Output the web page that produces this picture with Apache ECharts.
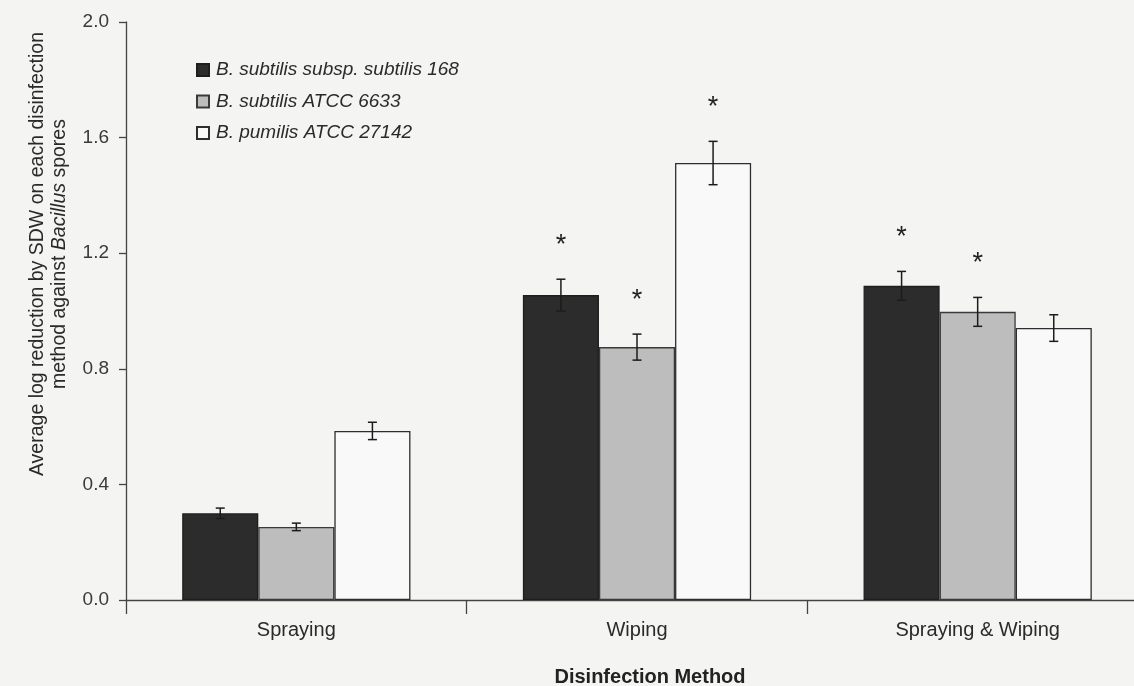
<!DOCTYPE html>
<html>
<head>
<meta charset="utf-8">
<script src="https://cdn.jsdelivr.net/npm/echarts@6/dist/echarts.min.js"></script>
<style>
  html, body { margin: 0; padding: 0; background: #f4f4f2; }
  #chart { width: 1134px; height: 686px; }
</style>
</head>
<body>
<div id="chart"></div>
<script>
// Disinfection methods (x categories)
const methods = ['Spraying', 'Wiping', 'Spraying & Wiping'];

// Strain names
const strains = [
  'B. subtilis subsp. subtilis 168',
  'B. subtilis ATCC 6633',
  'B. pumilis ATCC 27142'
];

// Mean log reduction per strain, one value per method
const strain168 = [0.30, 1.055, 1.087];
const strain6633 = [0.253, 0.875, 0.997];
const strain27142 = [0.585, 1.512, 0.941];

// Error (± half-range) per strain
const err168 = [0.018, 0.055, 0.05];
const err6633 = [0.013, 0.045, 0.05];
const err27142 = [0.03, 0.075, 0.046];

// Significance markers (1 = asterisk drawn)
const sig168 = [0, 1, 1];
const sig6633 = [0, 1, 1];
const sig27142 = [0, 1, 0];

// Y axis ticks
const yTicks = [0, 0.4, 0.8, 1.2, 1.6, 2.0];

const means = [strain168, strain6633, strain27142];
const errs = [err168, err6633, err27142];
const sigs = [sig168, sig6633, sig27142];

const FONT = '"Liberation Sans", Arial, Helvetica, sans-serif';
const GAP = 0.33;

const fills = ['#2c2c2c', '#bdbdbd', '#f9f9f9'];
const borders = ['#1e1e1e', '#3a3a3a', '#2e2e2e'];

const chart = echarts.init(document.getElementById('chart'), null, { renderer: 'canvas' });

// horizontal offset of a series' bar centre inside its category band
function barOffset(api, sIdx) {
  const band = api.size([1, 0])[0];
  const bw = band * (1 - GAP) / 3;
  return (sIdx - 1) * bw;
}

const barSeries = strains.map((name, i) => ({
  name: name,
  type: 'bar',
  data: means[i],
  barGap: '0%',
  barCategoryGap: (GAP * 100) + '%',
  itemStyle: { color: fills[i], borderColor: borders[i], borderWidth: 1.3 },
  emphasis: { disabled: true },
  z: 2
}));

// error whiskers with caps
const errSeries = strains.map((name, i) => ({
  type: 'custom',
  z: 5,
  silent: true,
  data: methods.map((m, j) => [j, means[i][j], errs[i][j]]),
  renderItem: function (params, api) {
    const j = api.value(0);
    const v = api.value(1);
    const e = api.value(2);
    const off = barOffset(api, i);
    const top = api.coord([j, v + e]);
    const bot = api.coord([j, v - e]);
    const x = top[0] + off;
    const cap = 4.5;
    const st = { stroke: '#1c1c1c', lineWidth: 1.5 };
    return {
      type: 'group',
      children: [
        { type: 'line', shape: { x1: x, y1: top[1], x2: x, y2: bot[1] }, style: st },
        { type: 'line', shape: { x1: x - cap, y1: top[1], x2: x + cap, y2: top[1] }, style: st },
        { type: 'line', shape: { x1: x - cap, y1: bot[1], x2: x + cap, y2: bot[1] }, style: st }
      ]
    };
  }
}));

// significance asterisks above the whiskers
const starSeries = strains.map((name, i) => ({
  type: 'custom',
  z: 6,
  silent: true,
  data: methods.map((m, j) => [j, means[i][j] + errs[i][j], sigs[i][j]]),
  renderItem: function (params, api) {
    if (!api.value(2)) return null;
    const j = api.value(0);
    const p = api.coord([j, api.value(1)]);
    const off = barOffset(api, i);
    return {
      type: 'text',
      style: {
        text: '*',
        x: p[0] + off,
        y: p[1] - 34,
        align: 'center',
        verticalAlign: 'middle',
        fontSize: 27,
        fontFamily: FONT,
        fill: '#222'
      }
    };
  }
}));

chart.setOption({
  backgroundColor: '#f4f4f2',
  animation: false,
  textStyle: { fontFamily: FONT },
  legend: {
    data: strains,
    orient: 'vertical',
    left: 196,
    top: 60,
    padding: 0,
    itemWidth: 12,
    itemHeight: 12,
    itemGap: 11.5,
    icon: 'rect',
    selectedMode: false,
    textStyle: {
      fontFamily: FONT,
      fontStyle: 'italic',
      fontSize: 19,
      lineHeight: 20,
      color: '#2a2a2a',
      padding: [0, 0, 0, 2]
    }
  },
  grid: {
    left: 126, right: -14, top: 22, bottom: 86,
    containLabel: false,
    outerBoundsMode: 'none'
  },
  xAxis: {
    type: 'category',
    data: methods,
    axisLine: { lineStyle: { color: '#444', width: 1.3 } },
    axisTick: { show: true, length: 14, lineStyle: { color: '#444', width: 1.3 } },
    axisLabel: { fontSize: 20, color: '#2a2a2a', margin: 20, fontFamily: FONT },
    name: 'Disinfection Method',
    nameLocation: 'middle',
    nameGap: 67,
    nameTextStyle: {
      fontSize: 20,
      fontWeight: 'bold',
      color: '#222',
      fontFamily: FONT,
      padding: [0, 0, 0, 26]
    }
  },
  yAxis: {
    type: 'value',
    min: yTicks[0],
    max: yTicks[yTicks.length - 1],
    interval: 0.4,
    splitLine: { show: false },
    axisLine: { show: true, lineStyle: { color: '#444', width: 1.3 } },
    axisTick: { show: true, length: 7, lineStyle: { color: '#444', width: 1.3 } },
    axisLabel: {
      fontSize: 19,
      color: '#3a3a3a',
      margin: 17,
      fontFamily: FONT,
      formatter: v => v.toFixed(1)
    }
  },
  graphic: [{
    type: 'text',
    x: 49,
    y: 254,
    rotation: Math.PI / 2,
    style: {
      text: 'Average log reduction by SDW on each disinfection\nmethod against {i|Bacillus} spores',
      align: 'center',
      verticalAlign: 'middle',
      fontSize: 19.5,
      lineHeight: 22,
      fontFamily: FONT,
      fill: '#2a2a2a',
      rich: {
        i: { fontStyle: 'italic', fontSize: 19.5, fontFamily: FONT, fill: '#2a2a2a' }
      }
    }
  }],
  series: [...barSeries, ...errSeries, ...starSeries]
});
</script>
</body>
</html>
